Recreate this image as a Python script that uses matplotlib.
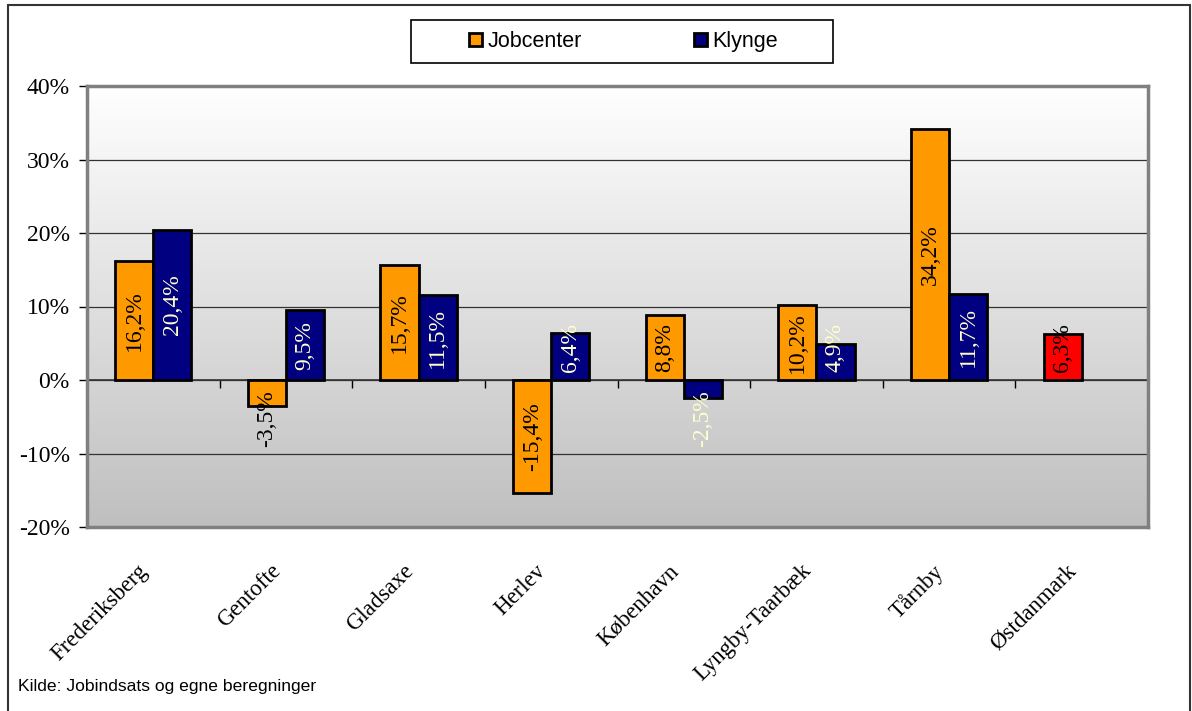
import numpy as np
import matplotlib.pyplot as plt
from matplotlib.patches import Rectangle, Patch
from matplotlib.transforms import ScaledTranslation

categories = ['Frederiksberg', 'Gentofte', 'Gladsaxe', 'Herlev', 'København',
              'Lyngby-Taarbæk', 'Tårnby', 'Østdanmark']
jobcenter = [16.2, -3.5, 15.7, -15.4, 8.8, 10.2, 34.2, 6.3]
klynge = [20.4, 9.5, 11.5, 6.4, -2.5, 4.9, 11.7, np.nan]
jobcenter_colors = ['#FF9900'] * 7 + ['#FF0000']
yticks = [-20, -10, 0, 10, 20, 30, 40]

serif = ['Liberation Serif', 'DejaVu Serif']
sans = ['Liberation Sans', 'DejaVu Sans']

fig = plt.figure(figsize=(11.92, 7.11), dpi=100)
ax = fig.add_axes([87 / 1192, 1 - 527 / 711, (1148 - 87) / 1192, (527 - 86) / 711])

# gradient background of the plot area: white at top to light grey at bottom
shade = np.linspace(1.0, 0.75, 256).reshape(-1, 1, 1)
grad = np.repeat(shade, 3, axis=2)
ax.imshow(grad, extent=[-0.5, 7.5, -20, 40], aspect='auto', zorder=0)

x = np.arange(len(categories))
w = 0.287

ax.bar(x - w / 2, jobcenter, w, color=jobcenter_colors, edgecolor='black',
       linewidth=2, zorder=3)
ax.bar(x + w / 2, klynge, w, color='#000080', edgecolor='black',
       linewidth=2, zorder=3)


def label_pos(v):
    if v >= 0:
        return max(v / 2, 4.4)
    return min(v / 2, -5.3)


def fmt(v):
    return ('%.1f%%' % v).replace('.', ',')


for i, v in enumerate(jobcenter):
    ax.text(x[i] - w / 2, label_pos(v), fmt(v), rotation=90, ha='center',
            va='center', fontsize=17, family=serif, color='black', zorder=5)
for i, v in enumerate(klynge):
    if np.isnan(v):
        continue
    ax.text(x[i] + w / 2, label_pos(v), fmt(v), rotation=90, ha='center',
            va='center', fontsize=17, family=serif, color='#FFFFCC', zorder=5)

ax.set_xlim(-0.5, 7.5)
ax.set_ylim(-20, 40)
ax.set_yticks(yticks)
ax.set_yticklabels(['%d%%' % t for t in yticks], family=serif, fontsize=17)
ax.tick_params(axis='y', direction='out', length=6, width=1, color='black', pad=6.5)
ax.yaxis.grid(True, color='#333333', linewidth=0.9, zorder=1)
ax.set_axisbelow(True)
ax.axhline(0, color='#333333', linewidth=1.2, zorder=2)

ax.set_xticks(x)
ax.set_xticklabels(categories, rotation=45, ha='right', rotation_mode='anchor',
                   family=serif, fontsize=16.5)
ax.tick_params(axis='x', length=0, pad=24)
shift = ScaledTranslation(-0.16, 0, fig.dpi_scale_trans)
for lbl in ax.get_xticklabels():
    lbl.set_transform(lbl.get_transform() + shift)

# category boundary ticks on the zero line
sec = ax.secondary_xaxis(1 / 3)
sec.set_xticks(np.arange(-0.5, 8.0, 1.0))
sec.set_xticklabels([])
sec.tick_params(direction='out', length=6, width=1, color='black')
sec.spines['bottom'].set_visible(False)

for s in ax.spines.values():
    s.set_color('#808080')
    s.set_linewidth(2.5)

# legend
fig.patches.append(Rectangle((411 / 1192, 1 - 63 / 711), 422 / 1192, 43 / 711,
                             transform=fig.transFigure, facecolor='white',
                             edgecolor='black', linewidth=1.2))
handles = [Patch(facecolor='#FF9900', edgecolor='black', linewidth=2, label='Jobcenter'),
           Patch(facecolor='#000080', edgecolor='black', linewidth=2, label='Klynge')]
fig.legend(handles=handles, ncol=2, loc='center left',
           bbox_to_anchor=(469 / 1192, 1 - 41.5 / 711),
           prop={'family': sans, 'size': 15.5}, frameon=False,
           borderpad=0, borderaxespad=0,
           handlelength=0.6, handleheight=0.6, handletextpad=0.25,
           columnspacing=5.2)

fig.text(18 / 1192, 1 - 686 / 711, 'Kilde: Jobindsats og egne beregninger',
         family=sans, fontsize=12.6, va='center', ha='left')

# outer frame
fig.patches.append(Rectangle((8 / 1192, -0.05), (1190 - 8) / 1192, 1.05 - 5 / 711,
                             transform=fig.transFigure, fill=False,
                             edgecolor='#333333', linewidth=1.5))

fig.savefig('out.png', dpi=100)
